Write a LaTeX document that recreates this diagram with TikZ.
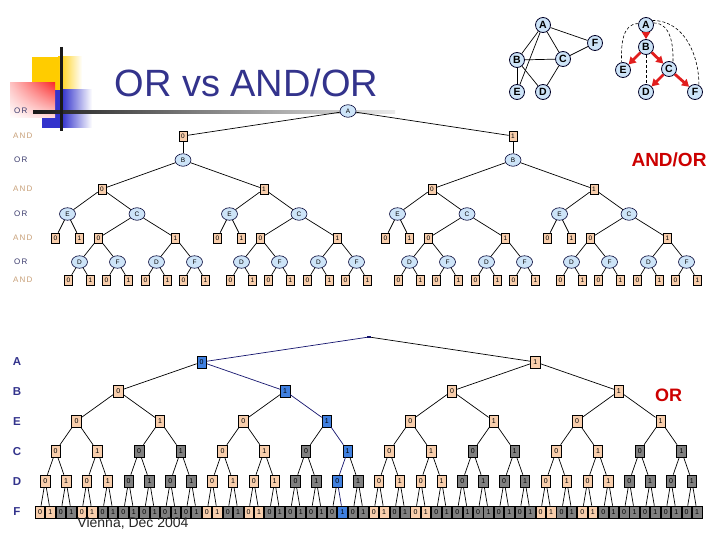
\documentclass[tikz,border=0pt]{standalone}
\usepackage{fontspec}
\setmainfont{Liberation Sans}
\newfontfamily\spacedfont[LetterSpace=15]{Liberation Sans}
\usetikzlibrary{shapes.geometric, arrows.meta, shadings}
\definecolor{peach}{RGB}{248,206,172}
\definecolor{lblue}{RGB}{205,228,248}
\definecolor{navyt}{RGB}{51,51,140}
\definecolor{boxgray}{RGB}{128,128,128}
\definecolor{boxblue}{RGB}{64,128,224}
\definecolor{pathnavy}{RGB}{20,20,110}
\definecolor{andtan}{RGB}{200,160,120}
\definecolor{orlab}{RGB}{60,60,110}
\definecolor{redlab}{RGB}{204,0,0}
\definecolor{arrred}{RGB}{225,30,30}
\definecolor{yel}{RGB}{255,204,0}
\definecolor{sqblue}{RGB}{51,51,204}
\definecolor{sqred}{RGB}{250,20,20}
\begin{document}
\begin{tikzpicture}[x=1pt,y=-1pt,
  gnode/.style={circle, draw=black!85!blue, line width=0.8pt, fill=lblue, minimum size=15pt, inner sep=0pt, font=\bfseries\fontsize{10.5}{10.5}\selectfont},
  gedge/.style={line width=0.7pt},
  redarr/.style={draw=arrred, line width=2.8pt, -{Triangle[length=7pt,width=8pt]}},
  dashedge/.style={line width=0.6pt, dash pattern=on 3pt off 2pt},
  aoor/.style={ellipse, draw=black!80!blue, line width=0.6pt, fill=lblue, minimum width=16pt, minimum height=12.5pt, inner sep=0pt, font=\fontsize{6.5}{6.5}\selectfont},
  aoand/.style={rectangle, draw=black, line width=0.6pt, fill=peach, minimum width=8pt, minimum height=10pt, inner sep=0pt, font=\fontsize{6.5}{6.5}\selectfont},
  tedge/.style={line width=0.7pt},
  orbox/.style={rectangle, draw=black, line width=0.6pt, minimum width=9.5pt, minimum height=12pt, inner sep=0pt, font=\fontsize{7}{7}\selectfont},
  andlab/.style={text=andtan, font=\spacedfont\fontsize{8}{8}\selectfont, anchor=west, inner sep=0pt},
  orlabel/.style={text=orlab, font=\spacedfont\fontsize{8}{8}\selectfont, anchor=west, inner sep=0pt},
  lvlab/.style={text=navyt, font=\bfseries\fontsize{11.5}{11.5}\selectfont, inner sep=0pt},
]
\useasboundingbox (0,0) rectangle (720,540);
\fill[white] (0,0) rectangle (720,540);
% decoration
\fill[yel] (32,57) rectangle (58,90);
\shade[left color=yel, right color=white] (58,57) rectangle (82,90);
\fill[sqblue] (42,90) rectangle (62,128);
\shade[left color=sqblue, right color=white] (62,90) rectangle (92,128);
\shade[upper left=sqred!25, upper right=sqred!90, lower left=white, lower right=sqred!15] (10,83) rectangle (55,118);
\shade[left color=black!90, right color=black!50] (33,110.5) rectangle (200,113.5);
\shade[left color=black!50, right color=black!22] (200,110.5) rectangle (330,113.5);
\shade[left color=black!22, right color=black!8] (330,110.5) rectangle (395,113.5);
\draw[line width=3pt, black!90] (61,47) -- (61,131);
\node[text=navyt, font=\fontsize{38}{38}\selectfont, anchor=base] (title) at (246.5,97) {OR vs AND/OR};
% graph 1
\node[gnode] (gA) at (543,25) {A};
\node[gnode] (gF) at (595,43) {F};
\node[gnode] (gB) at (517,60) {B};
\node[gnode] (gC) at (563,59) {C};
\node[gnode] (gE) at (517,92) {E};
\node[gnode] (gD) at (543,92) {D};
\foreach \u/\v in {gA/gB, gA/gC, gA/gF, gA/gE, gB/gC, gB/gE, gB/gD, gC/gF, gC/gD}
  \draw[gedge] (\u) -- (\v);
% graph 2
\node[gnode] (hA) at (646,25) {A};
\node[gnode] (hB) at (646,47) {B};
\node[gnode] (hE) at (623,70) {E};
\node[gnode] (hC) at (669,69) {C};
\node[gnode] (hD) at (646,92) {D};
\node[gnode] (hF) at (695,92) {F};
\draw[dashedge] (hA.170) to[out=180,in=92] (hE.100);
\draw[dashedge] (hA.15) to[out=0,in=88] (hC.60);
\draw[dashedge] (hA.35) to[out=0,in=90] (hF.60);
\draw[dashedge] (hB) -- (hD);
\foreach \u/\v in {hA/hB, hB/hE, hB/hC, hC/hD, hC/hF}
  \draw[redarr] (\u) -- (\v);
% AND/OR labels
\node[orlabel] (l1) at (14,111) {OR};
\node[andlab] (l2) at (13,136) {AND};
\node[orlabel] (l3) at (14,160) {OR};
\node[andlab] (l4) at (13,189) {AND};
\node[orlabel] (l5) at (14,214) {OR};
\node[andlab] (l6) at (13,238) {AND};
\node[orlabel] (l7) at (14,262) {OR};
\node[andlab] (l8) at (13,280) {AND};
\node[text=redlab, font=\bfseries\fontsize{19}{19}\selectfont, anchor=base] (aolab) at (669,167) {AND/OR};
% AND/OR tree
\node[aoor] (aoA) at (348,111) {A};
\foreach \i in {0,1} {
  \pgfmathsetmacro\xa{348+(2*\i-1)*165}
  \node[aoand] (p\i) at (\xa,136) {\i};
  \node[aoor] (pB\i) at (\xa,160) {B};
  \draw[tedge] (aoA) -- (p\i);
  \draw[tedge] (p\i) -- (pB\i);
  \foreach \j in {0,1} {
    \pgfmathsetmacro\xb{\xa+(2*\j-1)*81}
    \node[aoand] (p\i\j) at (\xb,189) {\j};
    \draw[tedge] (pB\i) -- (p\i\j);
    \pgfmathsetmacro\xe{\xb-34.5}
    \pgfmathsetmacro\xc{\xb+35}
    \node[aoor] (pE\i\j) at (\xe,214) {E};
    \node[aoor] (pC\i\j) at (\xc,214) {C};
    \draw[tedge] (p\i\j) -- (pE\i\j);
    \draw[tedge] (p\i\j) -- (pC\i\j);
    \foreach \k in {0,1} {
      \pgfmathsetmacro\xek{\xe+(2*\k-1)*12}
      \node[aoand] (pE\i\j\k) at (\xek,238) {\k};
      \draw[tedge] (pE\i\j) -- (pE\i\j\k);
      \pgfmathsetmacro\xck{\xc+(2*\k-1)*38.5}
      \node[aoand] (pC\i\j\k) at (\xck,238) {\k};
      \draw[tedge] (pC\i\j) -- (pC\i\j\k);
      \pgfmathsetmacro\xd{\xck-19}
      \pgfmathsetmacro\xf{\xck+19}
      \node[aoor] (pD\i\j\k) at (\xd,262) {D};
      \node[aoor] (pF\i\j\k) at (\xf,262) {F};
      \draw[tedge] (pC\i\j\k) -- (pD\i\j\k);
      \draw[tedge] (pC\i\j\k) -- (pF\i\j\k);
      \foreach \l in {0,1} {
        \node[aoand] (pD\i\j\k\l) at ({\xd+(2*\l-1)*11},280) {\l};
        \node[aoand] (pF\i\j\k\l) at ({\xf+(2*\l-1)*11},280) {\l};
        \draw[tedge] (pD\i\j\k) -- (pD\i\j\k\l);
        \draw[tedge] (pF\i\j\k) -- (pF\i\j\k\l);
      }
    }
  }
}
% OR tree labels
\node[lvlab] (m1) at (17,362) {A};
\node[lvlab] (m2) at (17,392) {B};
\node[lvlab] (m3) at (17,422) {E};
\node[lvlab] (m4) at (17,452) {C};
\node[lvlab] (m5) at (17,482) {D};
\node[lvlab] (m6) at (17,512) {F};
\node[text=redlab, font=\bfseries\fontsize{18}{18}\selectfont, anchor=base] (orred) at (668.5,401) {OR};
% OR tree
\node[fill=pathnavy, inner sep=0pt, minimum width=4pt, minimum height=2.5pt] (t0-0) at (369,337) {};
\foreach \lv/\yy/\bl in {1/362/0, 2/391/1, 3/421/3, 4/451/7, 5/481/14, 6/512/29} {
  \pgfmathtruncatemacro\nmax{2^\lv-1}
  \pgfmathtruncatemacro\pl{\lv-1}
  \pgfmathsetmacro\myspan{64/2^\lv}
  \foreach \n in {0,...,\nmax} {
    \pgfmathsetmacro\xx{40+10.43*(\n*\myspan+(\myspan-1)/2)}
    \pgfmathtruncatemacro\lab{mod(\n,2)}
    \pgfmathtruncatemacro\pn{floor(\n/2)}
    \pgfmathtruncatemacro\ebit{\lv>3 ? mod(floor(\n/(2^(\lv-3))),2) : 0}
    \pgfmathtruncatemacro\dbit{\lv>5 ? mod(floor(\n/2),2) : 0}
    \ifnum\n=\bl
      \def\fc{boxblue}\def\ec{pathnavy}%
    \else
      \def\ec{black}%
      \ifnum\ebit=1 \def\fc{boxgray}\else
        \ifnum\dbit=1 \def\fc{boxgray}\else\def\fc{peach}\fi
      \fi
    \fi
    \node[orbox, fill=\fc] (t\lv-\n) at (\xx,\yy) {\lab};
    \draw[tedge, draw=\ec] (t\pl-\pn) -- (t\lv-\n);
  }
}
\node[text=black!85, font=\fontsize{14}{14}\selectfont, anchor=base] (vienna) at (133,527) {Vienna, Dec 2004};
\end{tikzpicture}
\end{document}
